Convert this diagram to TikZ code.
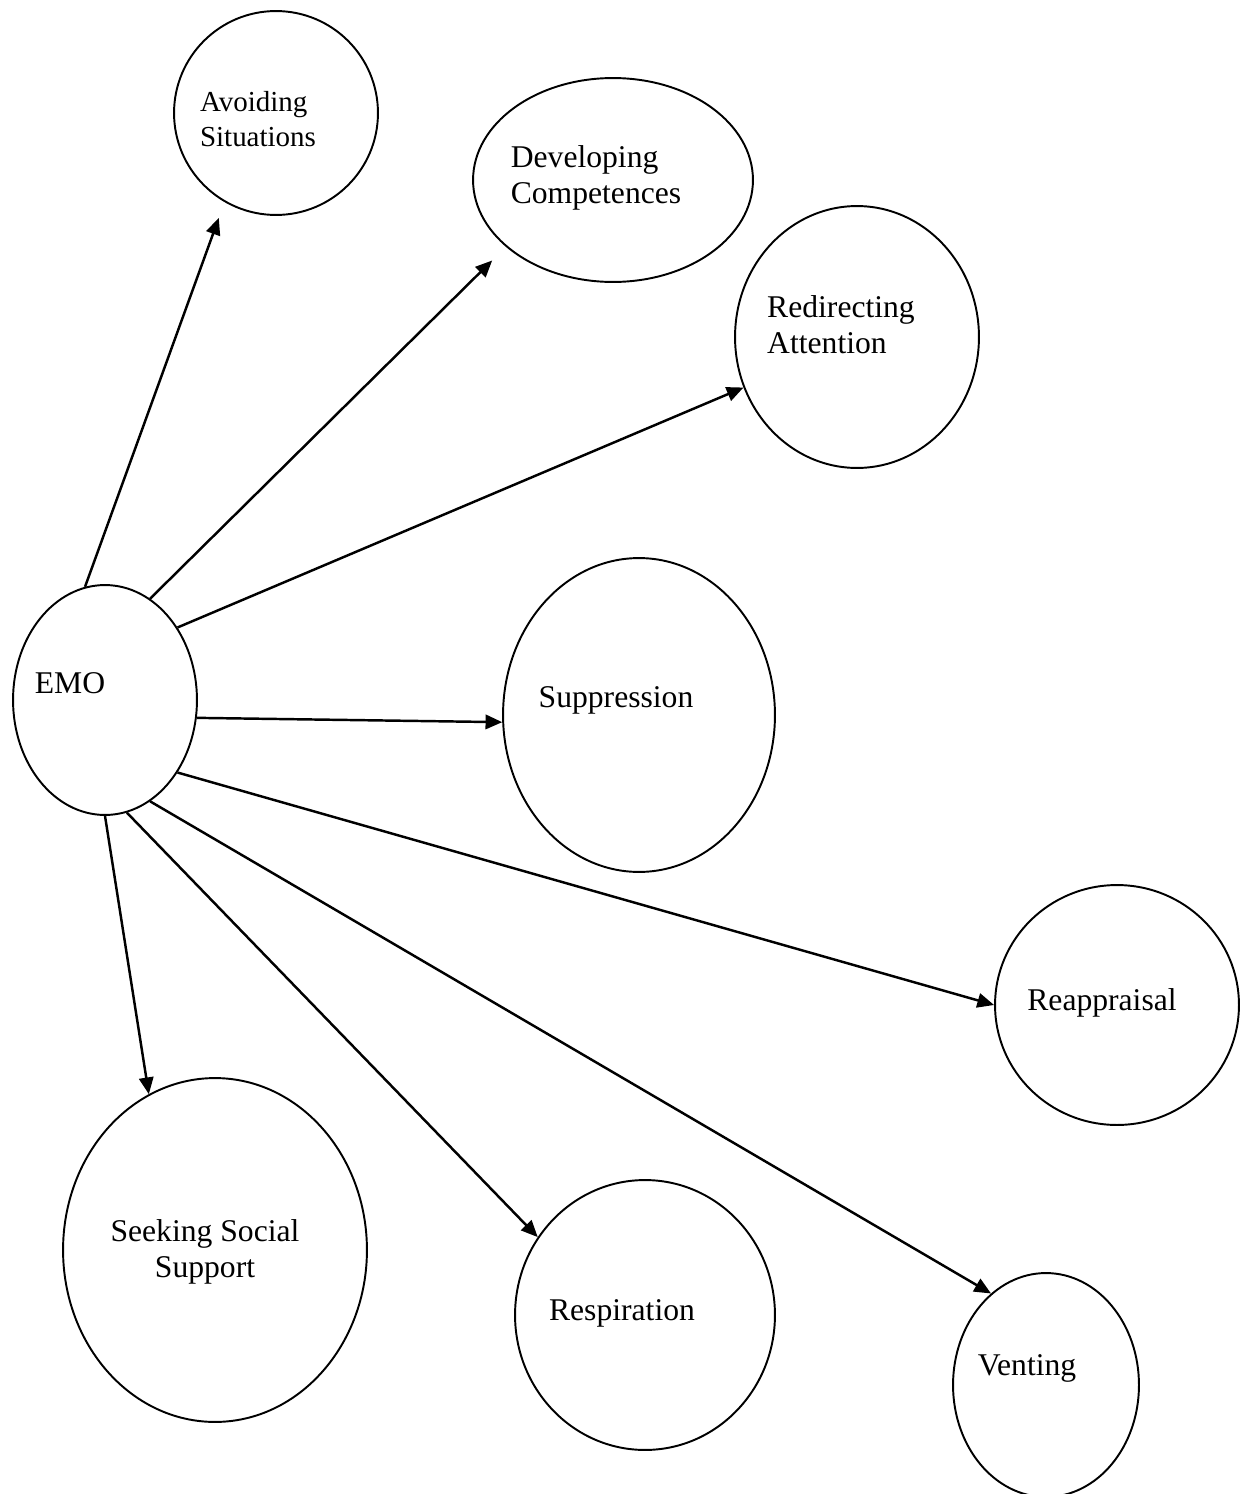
\documentclass[tikz,border=0pt]{standalone}
\usepackage{fontspec}
\setmainfont{Liberation Serif}
\usetikzlibrary{shapes.geometric,arrows.meta}

\begin{document}
\begin{tikzpicture}[x=0.02cm,y=-0.02cm]
\tikzset{E/.style 2 args={ellipse,draw,line width=1.1pt,inner sep=0pt,minimum width=#1*0.04cm,minimum height=#2*0.04cm}}
\tikzset{T/.style={font=\fontsize{18}{20.5}\selectfont,align=left,inner sep=0pt}}
\tikzset{A/.style={line width=1.4pt,-{Triangle[length=9.5pt,width=8.2pt]}}}

  \useasboundingbox (0,0) rectangle (1250,1494);

  \node[E={92}{115},label={[T,shift={(-35,-17)}]center:EMO}] (emo) at (105,700) {};
  \node[E={102}{102},label={[T,font=\fontsize{16.5}{19.8}\selectfont,shift={(-18,6)}]center:{Avoiding\\Situations}}] (avoid) at (276,113) {};
  \node[E={140}{102},label={[T,shift={(-17,-2)}]center:{Developing\\Competences}}] (devel) at (613,180) {};
  \node[E={122}{131},label={[T,shift={(-16,-12)}]center:{Redirecting\\Attention}}] (redir) at (857,337) {};
  \node[E={136}{157},label={[T,shift={(-23,-15)}]center:Suppression}] (suppr) at (639,715) {};
  \node[E={122}{120},label={[T,shift={(-15,-2)}]center:Reappraisal}] (reapp) at (1117,1005) {};
  \node[E={152}{172},label={[T,align=center,shift={(-10,2)}]center:{Seeking Social\\Support}}] (seek) at (215,1250) {};
  \node[E={130}{135},label={[T,shift={(-23,-2)}]center:Respiration}] (resp) at (645,1315) {};
  \node[E={93}{112},label={[T,shift={(-19,-17)}]center:Venting}] (vent) at (1046,1385) {};

  \draw[A,shorten >=9.6pt] (emo.100) -- (avoid.240);
  \draw[A,shorten >=11pt] (emo.66) -- (devel.212);
  \draw[A] (emo.45) -- (redir.204);
  \draw[A] (emo.-11) -- (suppr.183);
  \draw[A] (emo.-45) -- (reapp.180);
  \draw[A] (emo.-66) -- (vent.121);
  \draw[A] (emo.-79) -- (resp.144);
  \draw[A] (emo.-90) -- (seek.113);
\end{tikzpicture}
\end{document}
